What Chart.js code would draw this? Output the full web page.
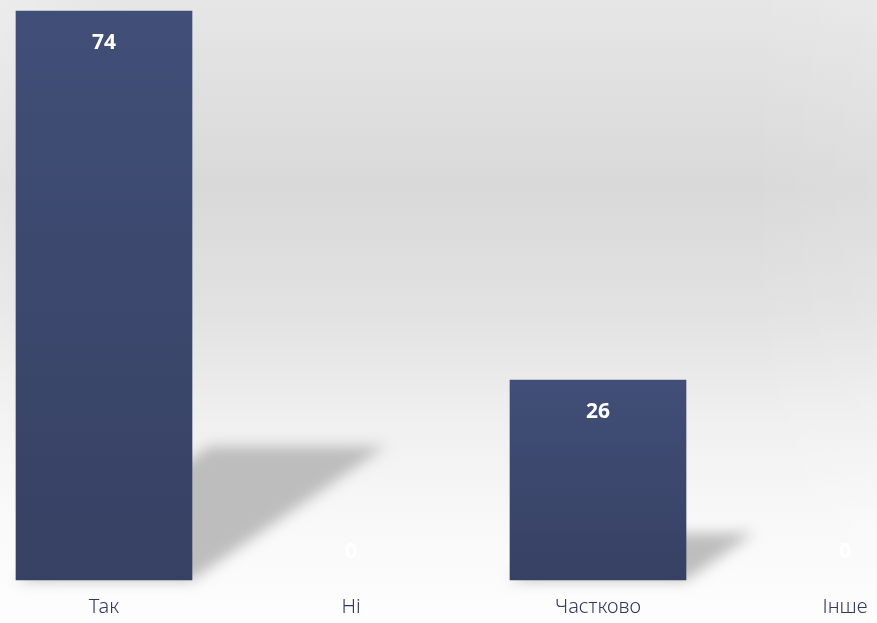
<!DOCTYPE html>
<html>
<head>
<meta charset="utf-8">
<script src="https://cdn.jsdelivr.net/npm/chart.js@4"></script>
<style>
html,body{margin:0;padding:0;background:#fdfdfd;}
#wrap{position:relative;width:877px;height:623px;}
</style>
</head>
<body>
<div id="wrap"><canvas id="c" width="877" height="623"></canvas></div>
<script>
const categories = ["Так", "Ні", "Частково", "Інше"];
const values = [74, 0, 26, 0];
const yMin = 0;
const yMax = 74;

const bgPlugin = {
  id: 'bg',
  beforeDraw(chart) {
    const ctx = chart.ctx;
    const w = chart.width, h = chart.height;
    ctx.save();
    const g = ctx.createLinearGradient(0, 0, 0, h);
    g.addColorStop(0, '#e6e6e6');
    g.addColorStop(0.3, '#d9d9d9');
    g.addColorStop(0.5, '#e2e2e2');
    g.addColorStop(0.68, '#f0f0f0');
    g.addColorStop(0.85, '#f9f9f9');
    g.addColorStop(1, '#fdfdfd');
    ctx.fillStyle = g;
    ctx.fillRect(0, 0, w, h);
    const gh = ctx.createLinearGradient(0, 0, w, 0);
    gh.addColorStop(0, 'rgba(255,255,255,0.25)');
    gh.addColorStop(0.15, 'rgba(255,255,255,0)');
    gh.addColorStop(0.85, 'rgba(255,255,255,0)');
    gh.addColorStop(1, 'rgba(255,255,255,0.1)');
    ctx.fillStyle = gh;
    ctx.fillRect(0, 0, w, h);
    ctx.restore();
  }
};

const shadowPlugin = {
  id: 'barShadow',
  beforeDatasetsDraw(chart) {
    const ctx = chart.ctx;
    const meta = chart.getDatasetMeta(0);
    ctx.save();
    ctx.filter = 'blur(7px)';
    meta.data.forEach((bar) => {
      const hgt = bar.base - bar.y;
      if (hgt <= 0) return;
      const half = bar.width / 2;
      const left = bar.x - half, right = bar.x + half;
      const dy = hgt * 0.235;
      const dx = hgt * 0.34;
      ctx.fillStyle = 'rgba(185,185,185,0.95)';
      ctx.beginPath();
      ctx.moveTo(left, bar.base);
      ctx.lineTo(right, bar.base);
      ctx.lineTo(right + dx, bar.base - dy);
      ctx.lineTo(left + dx, bar.base - dy);
      ctx.closePath();
      ctx.fill();
    });
    ctx.restore();
  }
};

const labelPlugin = {
  id: 'valLabels',
  afterDatasetsDraw(chart) {
    const ctx = chart.ctx;
    const meta = chart.getDatasetMeta(0);
    const xs = chart.scales.x;
    ctx.save();
    ctx.textAlign = 'center';
    ctx.textBaseline = 'middle';
    meta.data.forEach((bar, i) => {
      const v = values[i];
      ctx.font = 'bold 21px "Noto Sans", sans-serif';
      if (v > 0) {
        ctx.fillStyle = '#ffffff';
        ctx.fillText(String(v), bar.x, bar.y + 32);
      } else {
        ctx.fillStyle = 'rgba(255,255,255,0.9)';
        ctx.fillText(String(v), bar.x, bar.base - 28);
      }
    });
    // category labels
    ctx.font = '300 20px "Noto Sans", sans-serif';
    ctx.fillStyle = '#2f3a5e';
    categories.forEach((lab, i) => {
      const x = xs.getPixelForValue(i);
      ctx.fillText(lab, x, chart.chartArea.bottom + 27);
    });
    ctx.restore();
  }
};

const ctx = document.getElementById('c').getContext('2d');
new Chart(ctx, {
  type: 'bar',
  data: {
    labels: categories,
    datasets: [{
      data: values,
      barThickness: 176,
      clip: false,
      borderWidth: 0,
      backgroundColor: (c) => {
        const v = c.parsed ? c.parsed.y : values[c.dataIndex];
        if (!v) return 'rgba(0,0,0,0)';
        const y = c.chart.scales.y;
        if (!y || !c.chart.chartArea) return '#3d4a70';
        const top = y.getPixelForValue(v);
        const base = y.getPixelForValue(0);
        const g = c.chart.ctx.createLinearGradient(0, top, 0, base);
        g.addColorStop(0, '#414e77');
        g.addColorStop(1, '#364163');
        return g;
      }
    }]
  },
  options: {
    responsive: false,
    animation: false,
    devicePixelRatio: 1,
    layout: { padding: { left: 104, right: 32, top: 11, bottom: 43 } },
    plugins: { legend: { display: false }, tooltip: { enabled: false } },
    scales: {
      x: {
        display: false,
        offset: false
      },
      y: {
        display: false,
        min: yMin,
        max: yMax
      }
    }
  },
  plugins: [bgPlugin, shadowPlugin, labelPlugin]
});
</script>
</body>
</html>
